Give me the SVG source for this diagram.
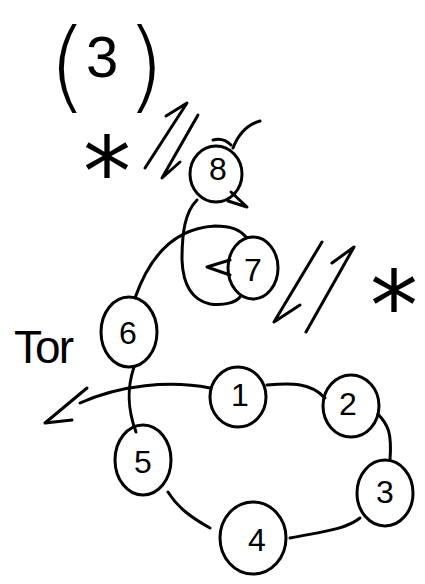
<svg xmlns="http://www.w3.org/2000/svg" width="425" height="584" viewBox="0 0 425 584">
<style>
.n{fill:none;stroke:#000;stroke-width:3;}
.c{fill:none;stroke:#000;stroke-width:3;stroke-linecap:round;stroke-linejoin:round;}
.t{font-family:"Liberation Sans",Arial,sans-serif;font-size:32px;fill:#000;text-anchor:middle;}
.s{font-family:"DejaVu Sans",sans-serif;font-size:96px;fill:#000;text-anchor:middle;}
.p{font-family:"DejaVu Sans",sans-serif;font-weight:200;font-size:100px;fill:#000;}
</style>
<rect width="425" height="584" fill="#fff"/>
<g id="connectors">
<!-- 6 - 5 -->
<path class="c" d="M134,367 C128,385 126,405 136,432"/>
<!-- Tor arrow from 1 -->
<path class="c" d="M210,388 C170,380 120,385 80,403"/>
<path class="c" d="M87,388 L45,423 L72,420"/>
<!-- 1 - 2 -->
<path class="c" d="M267,385 C290,383 310,382 325,398"/>
<!-- 2 - 3 -->
<path class="c" d="M378,414 C388,425 392,432 390,460"/>
<!-- 3 - 4 -->
<path class="c" d="M360,518 C345,530 320,532 290,538"/>
<!-- 4 - 5 -->
<path class="c" d="M210,528 C192,518 178,508 168,492"/>
<!-- 6 - 7 arc -->
<path class="c" d="M135,298 C150,255 175,228 215,226 C232,226 240,230 246,237"/>
<!-- 8 loop into 7 -->
<path class="c" d="M197,200 C185,212 182,232 182,260 C183,285 192,300 210,304 C225,306 236,302 240,297"/>
<path class="c" d="M230,260 L207,267 L230,275"/>
<!-- 8 outgoing arrowhead -->
<path class="c" d="M231,192 L247,207 L228,201"/>
<!-- line above 8 -->
<path class="c" d="M233,148 C238,135 246,125 260,121"/>
<path class="c" d="M213,140 C220,138 226,140 231,145"/>
<!-- left double arrows -->
<path class="c" d="M145,168 L187,103 L166,116"/>
<path class="c" d="M198,115 L162,178 L180,162"/>
<!-- right double arrows -->
<path class="c" d="M322,242 L274,322 L300,305"/>
<path class="c" d="M306,332 L354,247 L332,263"/>
</g>
<g id="node8"><ellipse class="n" cx="216" cy="174" rx="26" ry="28"/><text class="t" x="218" y="180">8</text></g>
<g id="node7"><ellipse class="n" cx="253" cy="268" rx="25" ry="31"/><text class="t" x="253" y="281">7</text></g>
<g id="node6"><ellipse class="n" cx="129" cy="332" rx="28" ry="35"/><text class="t" x="128" y="344">6</text></g>
<g id="node1"><ellipse class="n" cx="238" cy="397" rx="28" ry="30"/><text class="t" x="240" y="406">1</text></g>
<g id="node2"><ellipse class="n" cx="351" cy="406" rx="28" ry="31"/><text class="t" x="348" y="415">2</text></g>
<g id="node3"><ellipse class="n" cx="385" cy="493" rx="28" ry="33"/><text class="t" x="385" y="503">3</text></g>
<g id="node4"><ellipse class="n" cx="253" cy="538" rx="33" ry="36"/><text class="t" x="257" y="551">4</text></g>
<g id="node5"><ellipse class="n" cx="143" cy="460" rx="28" ry="35"/><text class="t" x="143" y="473">5</text></g>
<g id="labels">
<text class="p" y="100"><tspan x="48">(</tspan><tspan x="86" y="77" style="font-family:'Liberation Sans',Arial,sans-serif;font-weight:normal;font-size:58px">3</tspan><tspan x="126" y="100">)</tspan></text>
<text x="14" y="363" textLength="60" style="font-family:'Liberation Sans',Arial,sans-serif;font-size:46px;fill:#000">Tor</text>
<text class="s" x="107" y="206">*</text>
<text class="s" x="394" y="340">*</text>
</g>
</svg>
